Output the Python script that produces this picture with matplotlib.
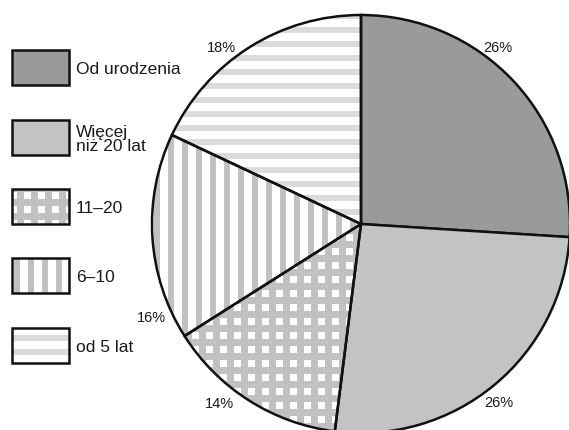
import numpy as np
from matplotlib import pyplot as plt
from matplotlib.patches import Rectangle

plt.rcParams['font.family'] = ['Liberation Sans', 'DejaVu Sans']

# dane
kategorie = ['Od urodzenia', 'Więcej\nniż 20 lat', '11–20', '6–10', 'od 5 lat']
procenty = [26, 26, 14, 16, 18]
etykiety = ['{}%'.format(p) for p in procenty]

W, H = 569, 431
fig = plt.figure(figsize=(W/100, H/100), dpi=100)
ax = fig.add_axes([0, 0, 1, 1])

# wzory (piksel po pikselu)
Y, X = np.mgrid[0:H, 0:W]
def wzor(maska, kolor_tla, kolor_wzoru):
    img = np.ones((H, W, 3))
    img[:] = kolor_tla
    img[maska] = kolor_wzoru
    return img

szary = np.array([0.76, 0.76, 0.76])
jasny = np.array([0.86, 0.86, 0.86])
bialy = np.array([1.0, 1.0, 1.0])

okres = 14
krata = wzor(((X + 4) % okres < 6.5) & ((Y + 3) % okres < 6.5), szary, bialy)
pionowe = wzor((X % okres) < 6, bialy, szary)
poziome = wzor((Y % okres) < 6, bialy, jasny)

kolory = ['#9a9a9a', '#c3c3c3', None, None, None]
wzory = [None, None, krata, pionowe, poziome]

# wykres kołowy
cx, cy, r = 361, H - 225, 209
wedges, _ = ax.pie(procenty, startangle=90, counterclock=False, center=(cx, cy), radius=r,
                   wedgeprops=dict(edgecolor='#111111', linewidth=1.8))
for w, c, p in zip(wedges, kolory, wzory):
    if p is None:
        w.set_facecolor(c)
    else:
        w.set_facecolor('none')
        im = ax.imshow(p, extent=(0, W, 0, H), origin='upper', interpolation='nearest', zorder=0.5)
        im.set_clip_path(w)
    w.set_zorder(2)

# etykiety procentowe
pos_etykiet = [(498, 48), (499, 403), (219, 404), (151, 318), (221, 48)]
for t, (x, y) in zip(etykiety, pos_etykiet):
    ax.text(x, H - y, t, fontsize=10.5, ha='center', va='center', color='#1a1a1a')

# legenda
top = [51, 121, 190, 259, 329]
for k, c, p, t in zip(kategorie, kolory, wzory, top):
    rect = Rectangle((12, H - t - 35), 57, 35, facecolor=c if c else 'none',
                     edgecolor='#111111', linewidth=1.8, zorder=2)
    ax.add_patch(rect)
    if p is not None:
        im = ax.imshow(p, extent=(0, W, 0, H), origin='upper', interpolation='nearest', zorder=0.5)
        im.set_clip_path(rect)
    ax.text(76, H - t - 18.5, k, fontsize=12.5, ha='left', va='center', color='#1a1a1a',
            linespacing=0.85)

ax.set_xlim(0, W)
ax.set_ylim(0, H)
ax.set_aspect('auto')
ax.axis('off')
plt.savefig('out.png', dpi=100)
